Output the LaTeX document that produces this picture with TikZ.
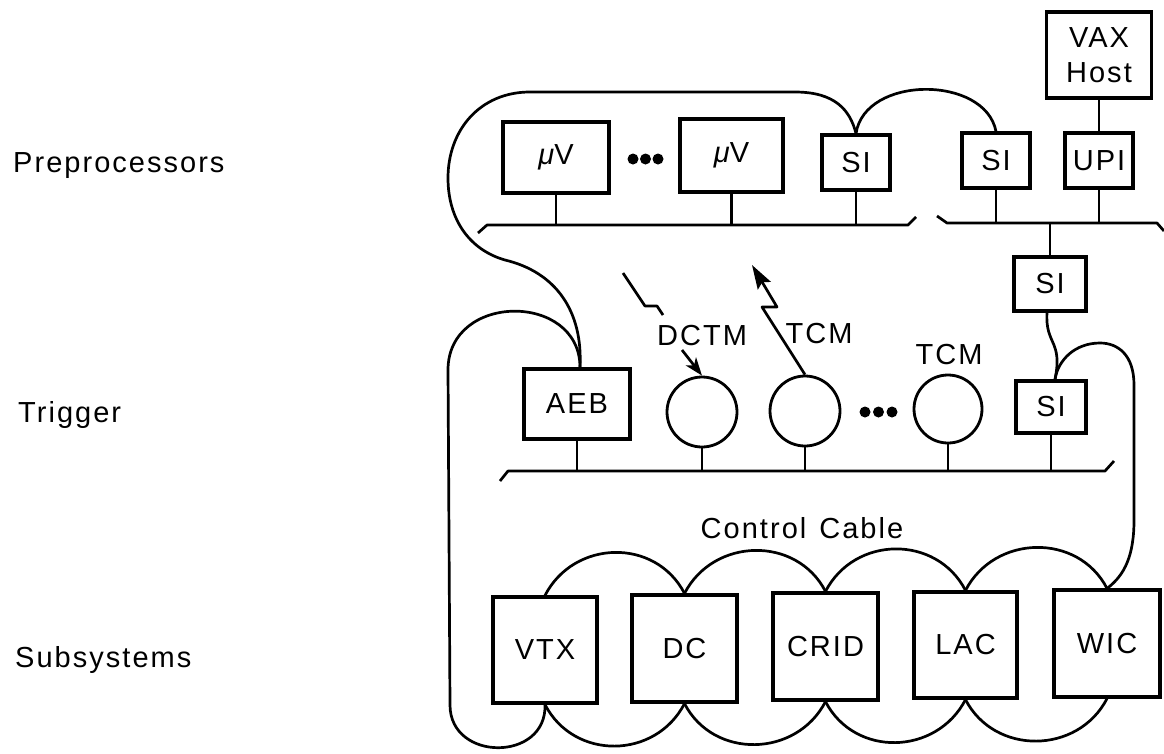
\documentclass[tikz,border=0pt]{standalone}
\usepackage{fontspec}
\setmainfont{Liberation Sans}[LetterSpace=7]
\usetikzlibrary{arrows.meta,calc}
\begin{document}
\begin{tikzpicture}[x=1pt,y=-1pt,
  box/.style={draw, line width=3.2pt, inner sep=0pt, font=\fontsize{29}{35}\selectfont},
  ring/.style={draw, circle, line width=2.8pt, inner sep=0pt, minimum size=70pt},
  wire/.style={line width=2.7pt, line join=round},
  lbl/.style={font=\fontsize{29}{35}\selectfont, inner sep=0pt},
  bdot/.style={fill, circle, inner sep=0pt, minimum size=11pt}]
\useasboundingbox (0,0) rectangle (1164,753);
\fill[white] (0,0) rectangle (1164,753);

% left labels
\node[lbl, anchor=base west] (lpre) at (13,172) {Preprocessors};
\node[lbl, anchor=base west] (ltrig) at (18,422) {Trigger};
\node[lbl, anchor=base west] (lsub) at (15,667) {Subsystems};

% preprocessor level
\node[box, minimum width=106pt, minimum height=71pt] (mv1) at (556,157.5) {{\itshape μ}V};
\node[box, minimum width=103pt, minimum height=73pt] (mv2) at (731.5,155.5) {{\itshape μ}V};
\node[bdot] (pd1) at (633,159) {};
\node[bdot] (pd2) at (645.5,159) {};
\node[bdot] (pd3) at (658,159) {};
\node[box, minimum width=68pt, minimum height=55pt] (si1) at (856,162.5) {SI};
\node[box, minimum width=68pt, minimum height=55pt] (si2) at (996,160.5) {SI};
\node[box, minimum width=68pt, minimum height=55pt] (upi) at (1099,160.5) {UPI};
\node[box, minimum width=105pt, minimum height=86pt, align=center] (vax) at (1099,55) {VAX\\Host};

% trigger level
\node[box, minimum width=72pt, minimum height=54pt] (si3) at (1050,284) {SI};
\node[box, minimum width=70pt, minimum height=52pt] (si4) at (1051,407) {SI};
\node[box, minimum width=106pt, minimum height=70pt] (aeb) at (577,404) {AEB};
\node[ring] (c1) at (702,412) {};
\node[ring] (c2) at (805,411) {};
\node[ring, minimum size=68pt] (c3) at (948,409) {};
\node[bdot] (td1) at (865,412) {};
\node[bdot] (td2) at (878.5,412) {};
\node[bdot] (td3) at (892,412) {};
\node[lbl, anchor=base] (ldctm) at (702,345) {DCTM};
\node[lbl, anchor=base] (ltcm1) at (819,343) {TCM};
\node[lbl, anchor=base] (ltcm2) at (949,364) {TCM};

% subsystems
\node[box, minimum width=104pt, minimum height=106pt] (vtx) at (545,650) {VTX};
\node[box, minimum width=105pt, minimum height=107pt] (dc) at (684.5,648.5) {DC};
\node[box, minimum width=105pt, minimum height=107pt] (crid) at (825.5,646.5) {CRID};
\node[box, minimum width=103pt, minimum height=106pt] (lac) at (965.5,645) {LAC};
\node[box, minimum width=106pt, minimum height=107pt] (wic) at (1107,643.5) {WIC};
\node[lbl, anchor=base] (lcc) at (802,538) {Control\hspace{0.45em}Cable};

% buses
\coordinate (pbL0) at (478,233);
\coordinate (pbL1) at (487,225);
\coordinate (pbL2) at (908,225);
\coordinate (pbL3) at (916,217);
\coordinate (pbR0) at (937,216);
\coordinate (pbR1) at (947,223);
\coordinate (pbR2) at (1157,223);
\coordinate (pbR3) at (1164,231);
\coordinate (tb0) at (500,481);
\coordinate (tb1) at (508,471);
\coordinate (tb2) at (1105,471);
\coordinate (tb3) at (1114,461);
\draw[wire] (pbL0) -- (pbL1) -- (pbL2) -- (pbL3);
\draw[wire] (pbR0) -- (pbR1) -- (pbR2) -- (pbR3);
\draw[wire] (tb0) -- (tb1) -- (tb2) -- (tb3);

% stubs
\draw[wire] (mv1.south) -- (mv1.south |- pbL1);
\draw[wire] (mv2.south) -- (mv2.south |- pbL1);
\draw[wire] (si1.south) -- (si1.south |- pbL1);
\draw[wire] (si2.south) -- (si2.south |- pbR1);
\draw[wire] (upi.south) -- (upi.south |- pbR1);
\draw[wire] (vax.south) -- (upi.north);
\draw[wire] (si3.north |- pbR1) -- (si3.north);
\draw[wire] (aeb.south) -- (aeb.south |- tb1);
\draw[wire] (c1.south) -- (c1.south |- tb1);
\draw[wire] (c2.south) -- (c2.south |- tb1);
\draw[wire] (c3.south) -- (c3.south |- tb1);
\draw[wire] (si4.south) -- (si4.south |- tb1);

% cables
\coordinate (aebT) at ($(aeb.north)+(3,0)$);
\draw[wire] (si1.north) .. controls (850,110) and (835,92) .. (795,92) -- (530,92)
  .. controls (480,92) and (448,130) .. (448,178)
  .. controls (448,220) and (470,250) .. (505,260)
  .. controls (555,272) and (583,310) .. (aebT);
\draw[wire] (si1.north) .. controls (865,75) and (985,75) .. (si2.north);
\draw[wire] (aebT) .. controls (580,292) and (448,292) .. (448,370) -- (450,705)
  .. controls (450,762) and (547,762) .. (vtx.south);
\foreach \a/\b in {vtx/dc, dc/crid, crid/lac, lac/wic} {
  \draw[wire] (\a.north) .. controls ($(\a.north)+(29,-56)$) and ($(\b.north)+(-29,-56)$) .. (\b.north);
  \draw[wire] (\a.south) .. controls ($(\a.south)+(29,56)$) and ($(\b.south)+(-29,56)$) .. (\b.south);
}
\coordinate (si4T) at ($(si4.north)+(4,0)$);
\draw[wire] (wic.north) .. controls (1125,575) and (1134,555) .. (1134,520) -- (1134,385)
  .. controls (1134,355) and (1118,343) .. (1100,343)
  .. controls (1075,343) and (1058,360) .. (si4T);
\draw[wire] ($(si3.south)+(-3,0)$) .. controls (1045,345) and (1063,340) .. (si4T);

% trigger links
\coordinate (z1) at (623,273);
\coordinate (z2) at (645,306);
\coordinate (z3) at (657,306);
\coordinate (z4) at (663,315);
\draw[wire] (z1) -- (z2) -- (z3) -- (z4);
\coordinate (da) at (682,350);
\draw[wire, -{Stealth[length=18pt,width=13pt,inset=5pt]}] (da) -- (c1.north);
\coordinate (t1) at (762,307);
\coordinate (t2) at (777,307);
\coordinate (t3) at (752,265);
\draw[wire, -{Stealth[length=24pt,width=15pt,inset=4pt]}] (c2.north) -- (t1) -- (t2) -- (t3);
\end{tikzpicture}
\end{document}
